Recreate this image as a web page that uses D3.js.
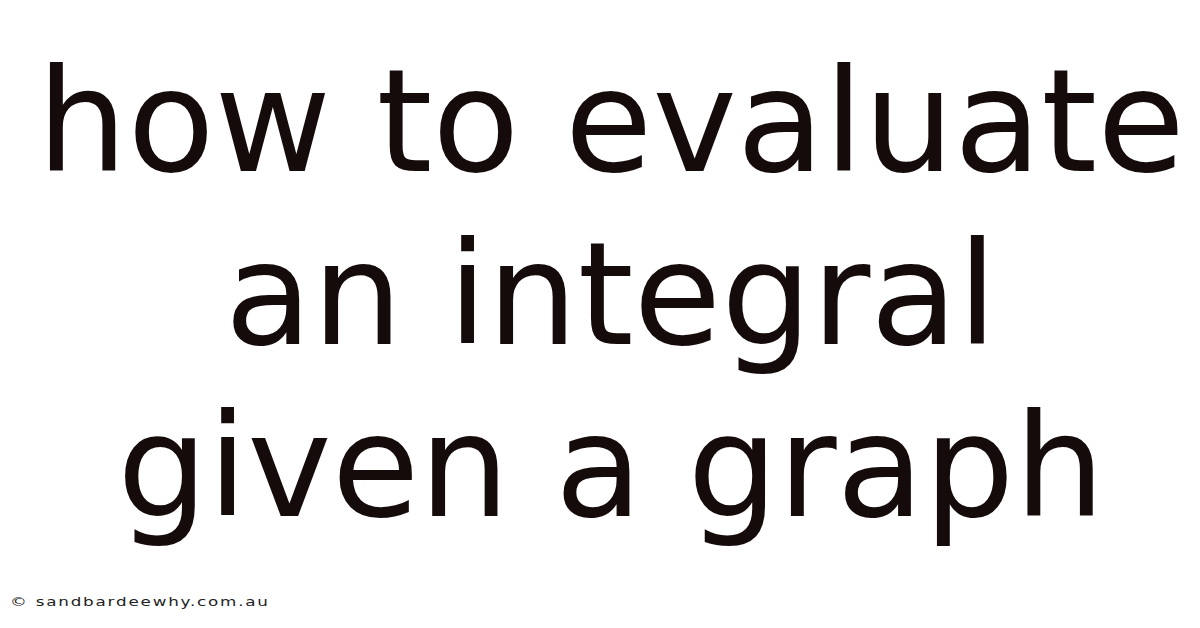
<!DOCTYPE html>
<html lang="en">
<head>
<meta charset="UTF-8">
<title>how to evaluate an integral given a graph</title>
<script src="https://d3js.org/d3.v7.min.js"></script>
<style>
  html, body { margin: 0; padding: 0; background: #fff; }
  svg { display: block; }
</style>
</head>
<body>
<svg id="chart" width="1200" height="628"></svg>
<script>
'use strict';

// text content
const titleLines = ['how to evaluate', 'an integral', 'given a graph'];
const watermark = '\u00A9 sandbardeewhy.com.au';

const width = 1200, height = 628;
const svg = d3.select('#chart');

svg.append('rect').attr('width', width).attr('height', height).attr('fill', '#fff');

// baselines for each title line
const y = d3.scalePoint()
    .domain(d3.range(titleLines.length))
    .range([171, 516]);

svg.selectAll('text.title')
    .data(titleLines)
    .enter()
    .append('text')
    .attr('class', 'title')
    .attr('x', 611)
    .attr('y', (_, i) => y(i))
    .attr('text-anchor', 'middle')
    .attr('font-family', '"DejaVu Sans", sans-serif')
    .attr('font-size', 142.5)
    .attr('fill', '#150b0b')
    .text(d => d);

// watermark is drawn wide, so stretch it horizontally
const wmScale = 1.4;
svg.append('g')
    .attr('transform', `translate(10,606) scale(${wmScale},1)`)
  .append('text')
    .attr('font-family', '"DejaVu Sans", sans-serif')
    .attr('font-size', 12)
    .attr('textLength', 258 / wmScale)
    .attr('lengthAdjust', 'spacing')
    .attr('fill', '#222')
    .text(watermark);
</script>
</body>
</html>
